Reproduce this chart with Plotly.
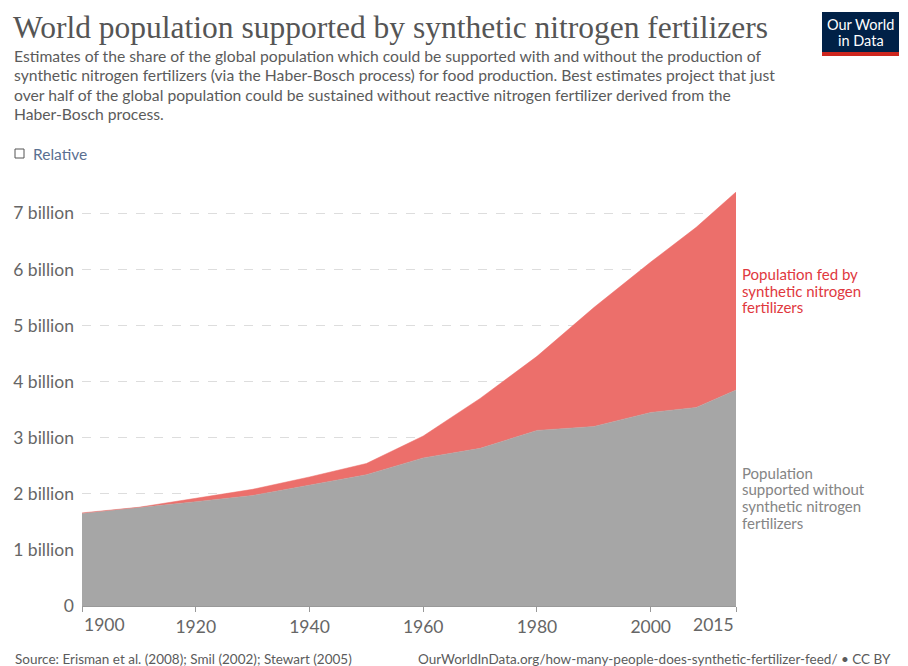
import plotly.graph_objects as go

# world population (billions) and the part that could be fed without synthetic N
years = [1900, 1910, 1920, 1930, 1940, 1950, 1960, 1970, 1980, 1990, 2000, 2008, 2015]
total_pop = [1.66, 1.76, 1.92, 2.08, 2.30, 2.54, 3.03, 3.70, 4.45, 5.32, 6.13, 6.75, 7.38]
without_fert = [1.65, 1.75, 1.86, 1.97, 2.15, 2.34, 2.64, 2.81, 3.13, 3.20, 3.45, 3.54, 3.85]
fed_by_fert = [round(t - w, 3) for t, w in zip(total_pop, without_fert)]

y_ticks = [0, 1, 2, 3, 4, 5, 6, 7]
y_tick_text = ["0"] + [f"{v} billion" for v in y_ticks[1:]]
x_ticks = [1900, 1920, 1940, 1960, 1980, 2000, 2015]

W, H = 908, 666
L, R, T, B = 82, 172, 192, 60
FONT = "Lato, 'Open Sans', sans-serif"


def px(x, y):
    # pixel position -> paper coords
    return (x - L) / (W - L - R), (H - B - y) / (H - T - B)


fig = go.Figure()
fig.add_trace(go.Scatter(
    x=years, y=without_fert, stackgroup="one", mode="lines",
    line=dict(width=0.5, color="#a6a6a6"), fillcolor="#a6a6a6",
    name="Population supported without synthetic nitrogen fertilizers",
    hoverinfo="skip"))
fig.add_trace(go.Scatter(
    x=years, y=fed_by_fert, stackgroup="one", mode="lines",
    line=dict(width=0.5, color="#ec6f6b"), fillcolor="#ec6f6b",
    name="Population fed by synthetic nitrogen fertilizers",
    hoverinfo="skip"))

ann = []


def text(x, y, s, size, color, anchor="left", family=FONT, yanchor="middle"):
    xp, yp = px(x, y)
    ann.append(dict(x=xp, y=yp, xref="paper", yref="paper", text=s, showarrow=False,
                    xanchor=anchor, yanchor=yanchor, align="left",
                    font=dict(size=size, color=color, family=family)))


text(11, 27, "World population supported by synthetic nitrogen fertilizers", 31.5, "#555555",
     family="'Liberation Serif', serif")
subtitle = ["Estimates of the share of the global population which could be supported with and without the production of",
            "synthetic nitrogen fertilizers (via the Haber-Bosch process) for food production. Best estimates project that just",
            "over half of the global population could be sustained without reactive nitrogen fertilizer derived from the",
            "Haber-Bosch process."]
for i, line in enumerate(subtitle):
    text(12, 56 + i * 19.3, line, 15.7, "#5b5b5b")
text(31, 154, "Relative", 15.5, "#5a6f91")
text(893, 659, "OurWorldInData.org/how-many-people-does-synthetic-fertilizer-feed/ • CC BY", 13.5,
     "#5b5b5b", anchor="right")
text(13, 659, "Source: Erisman et al. (2008); Smil (2002); Stewart (2005)", 13.5, "#5b5b5b")

# logo
text(860.5, 24, "Our World", 14.5, "white", anchor="center")
text(860.5, 41, "in Data", 14.5, "white", anchor="center")

# series labels, one line at a time to keep the tight line height
red_lines = ["Population fed by", "synthetic nitrogen", "fertilizers"]
for i, line in enumerate(red_lines):
    text(740, 274.3 + i * 16.3, line, 15, "#e0383e")
grey_lines = ["Population", "supported without", "synthetic nitrogen", "fertilizers"]
for i, line in enumerate(grey_lines):
    text(740, 472.7 + i * 16.7, line, 15, "#858585")

# first/last x tick labels are aligned to the tick edge
ann.append(dict(x=1900, y=px(0, 624)[1], xref="x", yref="paper", xanchor="left", yanchor="middle",
                showarrow=False, text="1900", font=dict(size=17.5, color="#666", family=FONT)))
ann.append(dict(x=2015, y=px(0, 624)[1], xref="x", yref="paper", xanchor="right", yanchor="middle",
                showarrow=False, text="2015", font=dict(size=17.5, color="#666", family=FONT)))

shapes = []
x0, y0 = px(822, 12)
x1, y1 = px(899, 52)
shapes.append(dict(type="rect", xref="paper", yref="paper", x0=x0, y0=y0, x1=x1, y1=y1,
                   fillcolor="#002147", line=dict(width=0)))
x0, y0 = px(822, 52)
x1, y1 = px(899, 56)
shapes.append(dict(type="rect", xref="paper", yref="paper", x0=x0, y0=y0, x1=x1, y1=y1,
                   fillcolor="#ce261e", line=dict(width=0)))
x0, y0 = px(15, 149)
x1, y1 = px(24, 158)
shapes.append(dict(type="rect", xref="paper", yref="paper", x0=x0, y0=y0, x1=x1, y1=y1,
                   fillcolor="white", line=dict(width=1, color="#555")))

fig.update_layout(
    width=W, height=H,
    margin=dict(l=L, r=R, t=T, b=B),
    paper_bgcolor="white", plot_bgcolor="white",
    showlegend=False,
    font=dict(family=FONT, color="#666"),
    annotations=ann, shapes=shapes,
    xaxis=dict(range=[1900, 2015], tickvals=x_ticks,
               ticktext=[""] + [str(v) for v in x_ticks[1:-1]] + [""],
               showgrid=False, zeroline=False, showline=True, linecolor="#999", linewidth=1,
               ticks="outside", ticklen=5, tickcolor="#999",
               tickfont=dict(size=17.5, color="#666")),
    yaxis=dict(range=[0, 7.38], tickvals=y_ticks, ticktext=y_tick_text,
               showgrid=True, gridcolor="#dddddd", griddash="dash", zeroline=False,
               showline=False, ticks="", ticklabelstandoff=7,
               tickfont=dict(size=17.5, color="#666")),
)

fig.write_html("out.html", config={"displayModeBar": False},
               post_script="document.body.style.margin='0';")
